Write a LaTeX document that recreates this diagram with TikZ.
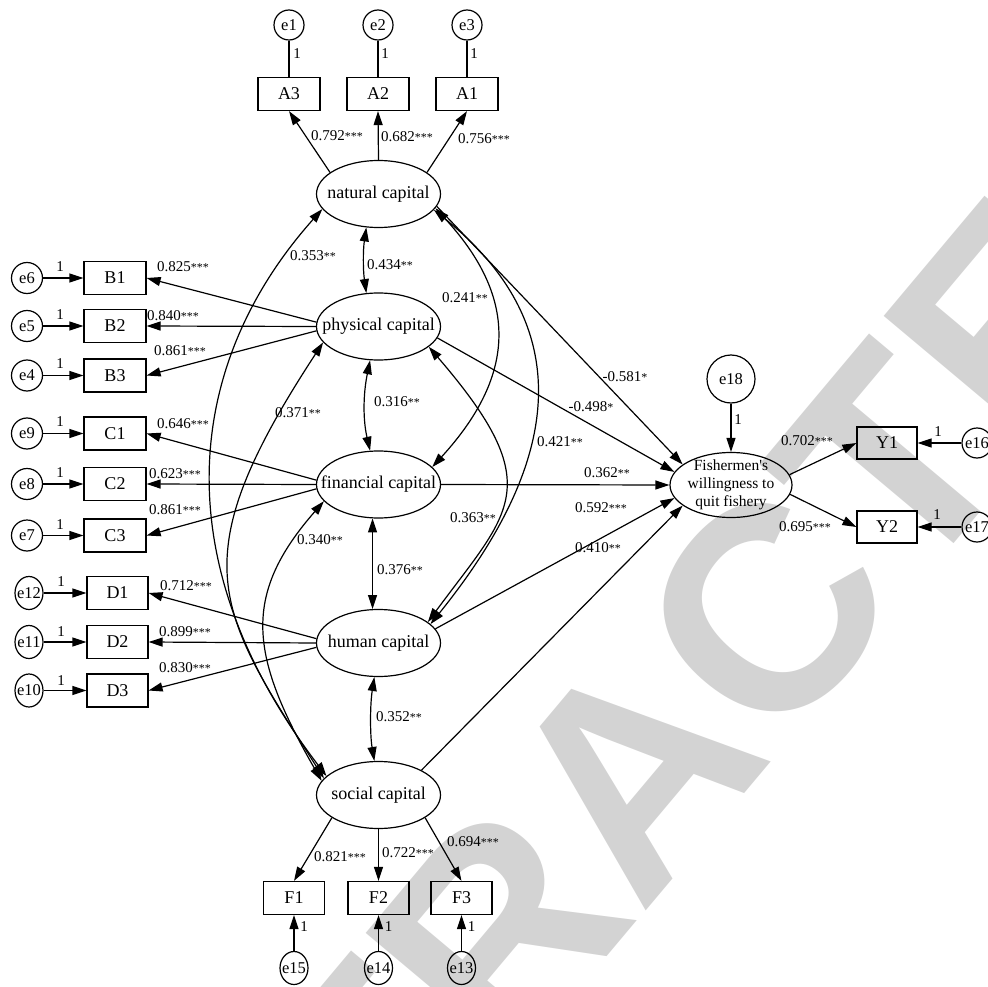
\documentclass[tikz,border=0pt]{standalone}
\usepackage{fontspec}
\setmainfont{Liberation Serif}
\newfontfamily\plainserif{Liberation Serif}
\newfontfamily\wmfont{Liberation Sans}
\usetikzlibrary{shapes.geometric,arrows.meta}
\definecolor{wm}{RGB}{211,211,211}
\newcommand{\ztx}[1]{\makebox[0pt]{#1}}
\newcommand{\sgn}[1]{{\fontsize{12}{12}\selectfont #1}}
\begin{document}
\begin{tikzpicture}[x=1pt,y=1pt,
  lat/.style={ellipse,draw,line width=1.2pt,minimum width=124pt,minimum height=67pt,inner sep=0pt,font=\fontsize{18}{20}\selectfont},
  obs/.style={rectangle,draw,line width=1.2pt,minimum width=62pt,minimum height=33pt,inner sep=0pt,font=\fontsize{18}{20}\selectfont},
  err/.style={circle,draw,line width=1.2pt,minimum size=30pt,inner sep=0pt,font=\fontsize{16.5}{18}\selectfont},
  errn/.style={ellipse,draw,line width=1.2pt,minimum width=28pt,minimum height=33pt,inner sep=0pt,font=\fontsize{16.5}{18}\selectfont},
  lbl/.style={inner sep=0pt,font=\fontsize{15}{17}\selectfont},
  one/.style={inner sep=0pt,font=\fontsize{15}{17}\selectfont},
  reg/.style={line width=1.2pt,-{Triangle[length=14pt,width=9pt]}},
  cov/.style={line width=1.2pt,{Triangle[length=14pt,width=9pt]}-{Triangle[length=14pt,width=9pt]}},
  lin/.style={line width=1.2pt}]
\useasboundingbox (0,0) rectangle (988,-987);
\clip (0,0) rectangle (988,-987);
% watermark
\node[rotate=50,text=wm,inner sep=0pt,font=\wmfont\bfseries\fontsize{290}{290}\selectfont] (wmk) at (632,-772) {RETRACTED};
% latent variables
\node[lat] (nat) at (378.5,-194) {\ztx{natural capital}};
\node[lat] (phys) at (378.5,-326.5) {\ztx{physical capital}};
\node[lat] (fin) at (378.5,-484.5) {\ztx{financial capital}};
\node[lat] (hum) at (378.5,-643) {\ztx{human capital}};
\node[lat] (soc) at (378.5,-795) {\ztx{social capital}};
\node[lat,minimum width=122pt,minimum height=65pt] (fish) at (731,-485) {};
\node[inner sep=0pt,align=center,font=\plainserif\fontsize{15.5}{18}\selectfont] (fishT) at (fish) {Fishermen's\\willingness to\\quit fishery};
% observed
\node[obs] (A3) at (289,-94) {A3};
\node[obs] (A2) at (378,-94) {A2};
\node[obs] (A1) at (467,-94) {A1};
\node[obs] (B1) at (115,-278) {B1};
\node[obs] (B2) at (115,-326) {B2};
\node[obs] (B3) at (115,-375.5) {B3};
\node[obs] (C1) at (115,-433.5) {C1};
\node[obs] (C2) at (115,-484) {C2};
\node[obs] (C3) at (115,-535.5) {C3};
\node[obs,minimum width=61pt] (D1) at (117.5,-593) {D1};
\node[obs,minimum width=61pt] (D2) at (117.5,-642) {D2};
\node[obs,minimum width=61pt] (D3) at (117.5,-690.5) {D3};
\node[obs,minimum width=61pt] (F1) at (294,-898) {F1};
\node[obs,minimum width=61pt] (F2) at (378.5,-898) {F2};
\node[obs,minimum width=61pt] (F3) at (461.5,-898) {F3};
\node[obs,minimum width=60pt,minimum height=32pt] (Y1) at (887,-443) {Y1};
\node[obs,minimum width=60pt,minimum height=32pt] (Y2) at (887,-527) {Y2};
% errors
\node[err] (e1) at (289,-25) {\ztx{e1}};
\node[err] (e2) at (378,-25) {\ztx{e2}};
\node[err] (e3) at (467,-25) {\ztx{e3}};
\node[err,minimum size=31pt] (e6) at (27,-278) {\ztx{e6}};
\node[err,minimum size=31pt] (e5) at (27,-326) {\ztx{e5}};
\node[err,minimum size=31pt] (e4) at (27,-375.5) {\ztx{e4}};
\node[err,minimum size=31pt] (e9) at (27,-433.5) {\ztx{e9}};
\node[err,minimum size=31pt] (e8) at (27,-484) {\ztx{e8}};
\node[err,minimum size=31pt] (e7) at (27,-535.5) {\ztx{e7}};
\node[errn] (e12) at (29,-593) {\ztx{e12}};
\node[errn] (e11) at (29,-642) {\ztx{e11}};
\node[errn] (e10) at (29,-690.5) {\ztx{e10}};
\node[errn] (e15) at (294,-968) {\ztx{e15}};
\node[errn] (e14) at (378.5,-968) {\ztx{e14}};
\node[errn] (e13) at (461.5,-968) {\ztx{e13}};
\node[err] (e16) at (977,-443) {\ztx{e16}};
\node[err] (e17) at (977,-527) {\ztx{e17}};
\node[err,minimum size=48pt] (e18) at (731,-379) {\ztx{e18}};
% error connectors
\draw[lin] (e1) -- (A3);
\draw[lin] (e2) -- (A2);
\draw[lin] (e3) -- (A1);
\foreach \e/\b in {e6/B1,e5/B2,e4/B3,e9/C1,e8/C2,e7/C3,e12/D1,e11/D2,e10/D3,e15/F1,e14/F2,e13/F3,e16/Y1,e17/Y2,e18/fish}
  \draw[reg] (\e) -- (\b);
% loadings
\draw[reg] (nat.156) -- (A3.south);
\draw[reg] (nat.north) -- (A2.south);
\draw[reg] (nat.24) -- (A1.south);
\draw[reg] (phys.176) -- (B1.east);
\draw[reg] (phys.180) -- (B2.east);
\draw[reg] (phys.184) -- (B3.east);
\draw[reg] (fin.176) -- (C1.east);
\draw[reg] (fin.180) -- (C2.east);
\draw[reg] (fin.184) -- (C3.east);
\draw[reg] (hum.176) -- (D1.east);
\draw[reg] (hum.180) -- (D2.east);
\draw[reg] (hum.184) -- (D3.east);
\draw[reg] (soc.206) -- (F1.north);
\draw[reg] (soc.south) -- (F2.north);
\draw[reg] (soc.-26) -- (F3.north);
\draw[reg] (fish.10) -- (Y1.west);
\draw[reg] (fish.-9) -- (Y2.west);
% structural paths
\draw[reg] (nat.-12) -- (fish.157);
\draw[reg] (phys.-11) -- (fish.167);
\draw[reg] (fin.east) -- (fish.180);
\draw[reg] (hum.14) -- (fish.193);
\draw[reg] (soc.30) -- (fish.203);
% covariances
\draw[cov] (nat.250) .. controls (363,-250) and (363,-270) .. (phys.110);
\draw[cov] (phys.256) .. controls (363,-395) and (363,-420) .. (fin.104);
\draw[cov] (fin.260) -- (hum.100);
\draw[cov] (hum.263) .. controls (370,-705) and (370,-735) .. (soc.97);
\draw[cov] (nat.195) .. controls (185,-363) and (162.5,-561) .. (soc.160);
\draw[cov] (phys.196) .. controls (179.5,-561.7) and (216.4,-609.3) .. (soc.163);
\draw[cov] (fin.197) .. controls (241,-596) and (250,-656) .. (soc.166);
\draw[cov] (nat.-14) .. controls (516.5,-296) and (518.6,-372.7) .. (fin.18);
\draw[cov] (nat.-16) .. controls (603,-346) and (533,-497) .. (hum.20);
\draw[cov] (phys.-22) .. controls (549.6,-487) and (509.6,-511) .. (hum.23);
% loading labels
\node[lbl] (l1) at (337,-136) {0.792\sgn{***}};
\node[lbl] (l2) at (407,-137) {0.682\sgn{***}};
\node[lbl] (l3) at (484,-139) {0.756\sgn{***}};
\node[lbl] (l4) at (183,-267) {0.825\sgn{***}};
\node[lbl] (l5) at (173,-316) {0.840\sgn{***}};
\node[lbl] (l6) at (180,-351) {0.861\sgn{***}};
\node[lbl] (l7) at (183,-424) {0.646\sgn{***}};
\node[lbl] (l8) at (175,-474) {0.623\sgn{***}};
\node[lbl] (l9) at (175,-510) {0.861\sgn{***}};
\node[lbl] (l10) at (186,-586) {0.712\sgn{***}};
\node[lbl] (l11) at (185,-632) {0.899\sgn{***}};
\node[lbl] (l12) at (185,-668) {0.830\sgn{***}};
\node[lbl] (l13) at (340,-857) {0.821\sgn{***}};
\node[lbl] (l14) at (408,-853) {0.722\sgn{***}};
\node[lbl] (l15) at (473,-842) {0.694\sgn{***}};
\node[lbl] (l16) at (807,-441) {0.702\sgn{***}};
\node[lbl] (l17) at (805,-527) {0.695\sgn{***}};
% covariance and path labels
\node[lbl] (c1) at (313,-256) {0.353\sgn{**}};
\node[lbl] (c2) at (390,-265) {0.434\sgn{**}};
\node[lbl] (c3) at (465,-298) {0.241\sgn{**}};
\node[lbl] (c4) at (298,-413) {0.371\sgn{**}};
\node[lbl] (c5) at (397,-402) {0.316\sgn{**}};
\node[lbl] (c6) at (560,-442) {0.421\sgn{**}};
\node[lbl] (c7) at (320,-540) {0.340\sgn{**}};
\node[lbl] (c8) at (473,-518) {0.363\sgn{**}};
\node[lbl] (c9) at (400,-570) {0.376\sgn{**}};
\node[lbl] (c10) at (399,-717) {0.352\sgn{**}};
\node[lbl] (p1) at (625,-377) {-0.581\sgn{*}};
\node[lbl] (p2) at (591,-407) {-0.498\sgn{*}};
\node[lbl] (p3) at (607,-473) {0.362\sgn{**}};
\node[lbl] (p4) at (601,-508) {0.592\sgn{***}};
\node[lbl] (p5) at (598,-548) {0.410\sgn{**}};
% ones
\node[one] (o1) at (297,-54) {1};
\node[one] (o2) at (385,-54) {1};
\node[one] (o3) at (474,-54) {1};
\node[one] (o6) at (60,-267) {1};
\node[one] (o5) at (60,-315) {1};
\node[one] (o4) at (60,-364) {1};
\node[one] (o9) at (60,-422) {1};
\node[one] (o8) at (60,-473) {1};
\node[one] (o7) at (60,-525) {1};
\node[one] (o12) at (61,-582) {1};
\node[one] (o11) at (61,-632) {1};
\node[one] (o10) at (61,-681) {1};
\node[one] (o15) at (304,-927) {1};
\node[one] (o14) at (388.5,-927) {1};
\node[one] (o13) at (471.5,-927) {1};
\node[one] (o16) at (938,-432) {1};
\node[one] (o17) at (937,-515) {1};
\node[one] (o18) at (738,-420) {1};
\end{tikzpicture}
\end{document}
